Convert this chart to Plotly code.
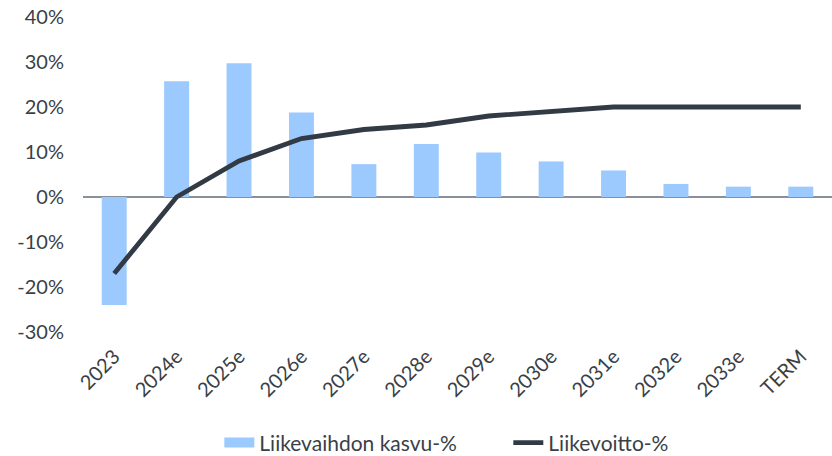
import plotly.graph_objects as go

years = ["2023", "2024e", "2025e", "2026e", "2027e", "2028e", "2029e",
         "2030e", "2031e", "2032e", "2033e", "TERM"]
revenue_growth = [-24, 25.7, 29.7, 18.8, 7.3, 11.8, 9.9, 7.9, 5.9, 2.9, 2.3, 2.3]
ebit_margin = [-17, 0, 8, 13, 15, 16, 18, 19, 20, 20, 20, 20]

y_ticks = [-30, -20, -10, 0, 10, 20, 30, 40]
y_tick_text = ["-30%", "-20%", "-10%", "0%", "10%", "20%", "30%", "40%"]

bar_color = "#9ccaff"
line_color = "#323a45"
text_color = "#3a3f47"
font_family = "Lato, 'Open Sans', sans-serif"

fig = go.Figure()
fig.add_trace(go.Bar(
    x=years, y=revenue_growth, name="Liikevaihdon kasvu-%",
    marker=dict(color=bar_color, line=dict(width=0)),
    width=0.4, showlegend=False, legendgroup="growth",
))
# wide flat swatch for the bar series in the legend
fig.add_trace(go.Scatter(
    x=[None], y=[None], name="Liikevaihdon kasvu-%", mode="lines",
    line=dict(color=bar_color, width=13), legendgroup="growth",
))
fig.add_trace(go.Scatter(
    x=years, y=ebit_margin, name="Liikevoitto-%", mode="lines",
    line=dict(color=line_color, width=4.8),
))

fig.update_layout(
    width=832, height=456,
    margin=dict(l=83, r=0, t=17, b=124, autoexpand=False),
    paper_bgcolor="white", plot_bgcolor="white",
    font=dict(family=font_family, size=20, color=text_color),
    showlegend=True,
    legend=dict(orientation="h", x=0.182, xanchor="left", y=-0.352,
                yanchor="middle", font=dict(size=21, color=text_color),
                entrywidth=244, entrywidthmode="pixels",
                traceorder="normal"),
)
fig.update_xaxes(
    type="category", tickangle=-45, showgrid=False, showline=False,
    ticks="", ticklabelstandoff=8, automargin=False,
    tickfont=dict(size=20, color=text_color),
)
fig.update_yaxes(
    range=[-30, 40], tickvals=y_ticks, ticktext=y_tick_text, showgrid=False,
    zeroline=True, zerolinecolor="#8a9099", zerolinewidth=1.5,
    showline=False, ticks="", ticklabelstandoff=18, automargin=False,
    tickfont=dict(size=20, color=text_color),
)

fig.write_html("out.html")
